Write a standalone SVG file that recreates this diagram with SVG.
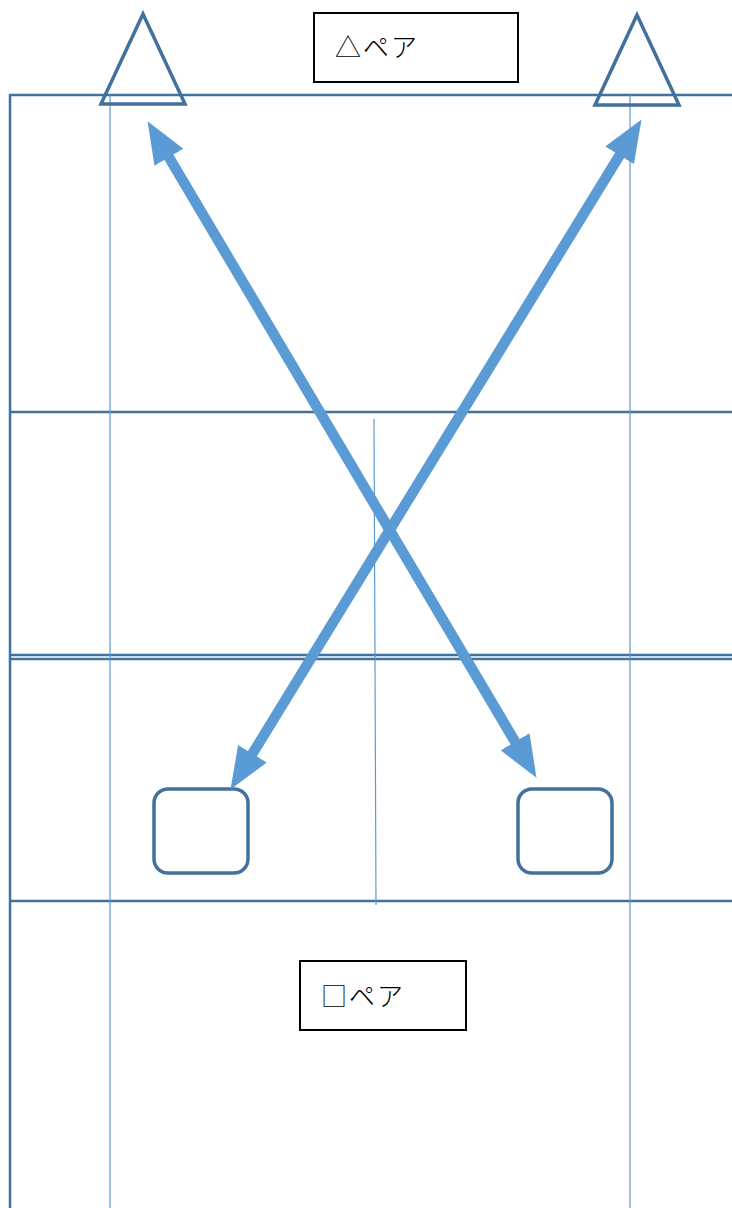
<svg xmlns="http://www.w3.org/2000/svg" width="732" height="1208" viewBox="0 0 732 1208">
<style>
.court{stroke:#41719c;stroke-width:2.5;fill:none}
.guide{stroke:#5b9bd5;stroke-width:1.2;fill:none}
.shape{stroke:#41719c;stroke-width:3.5;fill:none}
.lbl{stroke:#000;stroke-width:2;fill:#fff}
.txt{font-family:"Noto Sans CJK JP","Noto Sans",sans-serif;font-size:26px;font-weight:300;letter-spacing:2px;fill:#000}
.arrow{stroke:#5b9bd5;stroke-width:10.5;fill:none;marker-start:url(#ah);marker-end:url(#ah)}
</style>
<defs>
<marker id="ah" viewBox="0 0 4 3.2" markerWidth="4" markerHeight="3.2" refX="0.1" refY="1.6" orient="auto-start-reverse" markerUnits="strokeWidth">
<path d="M0,0 L4,1.6 L0,3.2 z" fill="#5b9bd5"/>
</marker>
</defs>
<rect width="732" height="1208" fill="#fff"/>
<g id="court">
<path class="court" d="M10,1208 V95 H732 M10,412 H732 M10,655 H732 M10,659 H732 M10,901 H732"/>
<path class="guide" d="M110,95 V1208 M630,95 V1208 M374,419 L376,905"/>
</g>
<g id="tri-left"><polygon class="shape" points="143,14 185,104 101,104"/></g>
<g id="tri-right"><polygon class="shape" points="637,15 679,105 595,105"/></g>
<g id="sq-left"><rect class="shape" x="154" y="789" width="94" height="84" rx="14"/></g>
<g id="sq-right"><rect class="shape" x="518" y="789" width="94" height="84" rx="14"/></g>
<g id="label-top"><rect class="lbl" x="314" y="13" width="204" height="69"/><text class="txt" x="335" y="57">△ペア</text></g>
<g id="label-bottom"><rect class="lbl" x="300" y="961" width="166" height="69"/><text class="txt" x="321" y="1006">□ペア</text></g>
<g id="connectors">
<line class="arrow" x1="168.4" y1="156.4" x2="515.6" y2="742.6"/>
<line class="arrow" x1="620.1" y1="154.4" x2="251.9" y2="754.6"/>
</g>
</svg>
